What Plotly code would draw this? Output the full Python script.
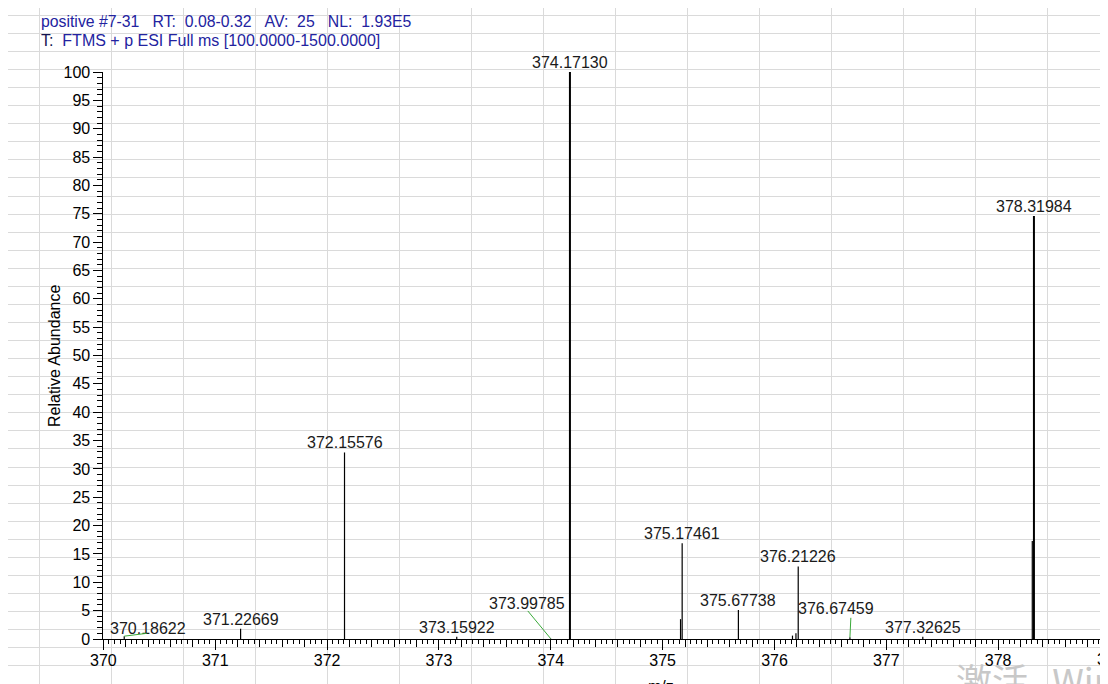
import plotly.graph_objects as go

# screen size and the 8px body margin of the page
W, H = 1108, 684
OFF = 8

header_1 = "positive #7-31   RT:  0.08-0.32   AV:  25   NL:  1.93E5"
header_2 = "FTMS + p ESI Full ms [100.0000-1500.0000]"

# centroid peaks
mz = [370.18622, 371.22669, 372.15576, 373.15922, 373.99785, 374.17130,
      375.16010, 375.17461, 375.67738, 376.16100, 376.19200, 376.21226,
      376.67459, 377.32625, 378.30500, 378.31984]
abundance = [0.5, 1.8, 32.9, 0.4, 0.1, 100.0,
             3.5, 16.9, 5.1, 0.6, 1.0, 12.8,
             0.3, 0.4, 17.3, 74.6]
labelled = ["370.18622", "371.22669", "372.15576", "373.15922", "373.99785",
            "374.17130", "375.17461", "375.67738", "376.21226", "376.67459",
            "377.32625", "378.31984"]

x_range = [370, 378.982]
y_range = [0, 100]

FONT = "Liberation Sans, Arial, sans-serif"
NAVY = "#2323a0"
GREEN = "#3aaa3a"

# label nudges (px) and green leader lines (px from the peak top)
label_shift = {"370.18622": (24, -2), "373.99785": (-24, 25), "376.67459": (-14, 19)}
leaders = {"370.18622": (24, -3), "373.99785": (-24, -29), "376.67459": (1, -21)}


def px(x, y):
    return (x - OFF) / (W - OFF), 1 - (y - OFF) / (H - OFF)


fig = go.Figure()

# spreadsheet grid behind the chart
fig.add_trace(go.Scatter(x=[], y=[], xaxis="x", yaxis="y", showlegend=False))

# peaks as sticks, thick ones drawn heavier
for heavy in (False, True):
    xs, ys = [], []
    for m, a in zip(mz, abundance):
        if (a >= 50) == heavy:
            xs += [m, m, None]
            ys += [0, a, None]
    fig.add_trace(go.Scatter(x=xs, y=ys, mode="lines", xaxis="x2", yaxis="y2",
                             line=dict(color="black", width=2 if heavy else 1.2),
                             showlegend=False, hoverinfo="skip"))
fig.add_trace(go.Scatter(x=[], y=[], xaxis="x3", yaxis="y2", showlegend=False))

ann = []
for m, a in zip(mz, abundance):
    key = "%.5f" % m
    if key not in labelled:
        continue
    dx, dy = label_shift.get(key, (0, 0))
    ann.append(dict(x=m, y=a, xref="x2", yref="y2", text=key, showarrow=False,
                    xanchor="center", yanchor="bottom", xshift=dx, yshift=-1 + dy,
                    font=dict(family=FONT, size=16, color="#1a1a1a")))
    if key in leaders:
        ax, ay = leaders[key]
        ann.append(dict(x=m, y=a, xref="x2", yref="y2", text="", showarrow=True,
                        ax=ax, ay=ay, arrowhead=0, arrowwidth=1, arrowcolor=GREEN,
                        standoff=0, startstandoff=0))

hx, hy = px(39, 22)
ann.append(dict(x=hx, y=hy, xref="paper", yref="paper", xanchor="left", yanchor="middle",
                text=header_1.replace(" ", "\u00a0"), showarrow=False,
                font=dict(family=FONT, size=15.8, color=NAVY)))
hx, hy = px(39, 41)
ann.append(dict(x=hx, y=hy, xref="paper", yref="paper", xanchor="left", yanchor="middle",
                text="<span style='color:#141450'>T:</span>\u00a0\u00a0" + header_2.replace(" ", "\u00a0"),
                showarrow=False, font=dict(family=FONT, size=16, color=NAVY)))

tx, ty = px(54, 356)
ann.append(dict(x=tx, y=ty, xref="paper", yref="paper", text="Relative Abundance",
                textangle=-90, showarrow=False, xanchor="center", yanchor="middle",
                font=dict(family=FONT, size=16, color="black")))
tx, ty = px(661, 676)
ann.append(dict(x=tx, y=ty, xref="paper", yref="paper", text="m/z", showarrow=False,
                xanchor="center", yanchor="top", font=dict(family=FONT, size=16, color="black")))
# the 379 tick label is cut by the right edge
tx, ty = px(103.4 + 9 * 111.85, 659)
ann.append(dict(x=tx, y=ty, xref="paper", yref="paper", text="379", showarrow=False,
                xanchor="center", yanchor="middle", font=dict(family=FONT, size=16, color="black")))
# watermark in the corner of the screenshot
tx, ty = px(954, 651)
ann.append(dict(x=tx, y=ty, xref="paper", yref="paper", text="激活\u00a0\u00a0\u00a0Windows",
                showarrow=False, xanchor="left", yanchor="top",
                font=dict(family="Noto Sans CJK SC", size=36, color="#c8c8c8")))

x0, _ = px(103.4, 0)
_, y0 = px(0, 639)
_, y1 = px(0, 72)

fig.update_layout(
    template="none",
    width=W - OFF, height=H - OFF,
    margin=dict(l=0, r=0, t=0, b=0),
    paper_bgcolor="white", plot_bgcolor="rgba(0,0,0,0)",
    showlegend=False,
    annotations=ann,
    xaxis=dict(domain=[0, 1], range=[OFF, W], showgrid=True, gridcolor="#dadada", gridwidth=1,
               tick0=39.5, dtick=72, showticklabels=False, ticks="", zeroline=False,
               showline=False, fixedrange=True, automargin=False),
    yaxis=dict(domain=[0, 1], range=[H, OFF], showgrid=True, gridcolor="#dadada", gridwidth=1,
               tick0=15.3, dtick=18.07, showticklabels=False, ticks="", zeroline=False,
               showline=False, fixedrange=True, automargin=False),
    xaxis2=dict(domain=[x0, 1], range=x_range, anchor="y2", showgrid=False, zeroline=False,
                showline=True, linecolor="black", linewidth=1,
                ticks="outside", tick0=370, dtick=1, ticklen=10, tickcolor="black",
                ticklabelstandoff=-3,
                tickfont=dict(family=FONT, size=16, color="black"), automargin=False,
                minor=dict(dtick=0.05, tick0=370, ticks="outside", ticklen=4,
                           tickcolor="black", showgrid=False)),
    xaxis3=dict(overlaying="x2", anchor="y2", range=x_range, side="bottom",
                showgrid=False, zeroline=False, showline=False, showticklabels=False,
                ticks="outside", tick0=370, dtick=0.2, ticklen=7, tickcolor="black",
                automargin=False),
    yaxis2=dict(domain=[y0, y1], range=y_range, anchor="x2", showgrid=False, zeroline=False,
                showline=True, linecolor="black", linewidth=1,
                ticks="outside", tick0=0, dtick=5, ticklen=9, tickcolor="black",
                tickfont=dict(family=FONT, size=16, color="black"), automargin=False,
                minor=dict(dtick=1, ticks="outside", ticklen=5, tickcolor="black",
                           showgrid=False)),
)

fig.write_html("out.html")
